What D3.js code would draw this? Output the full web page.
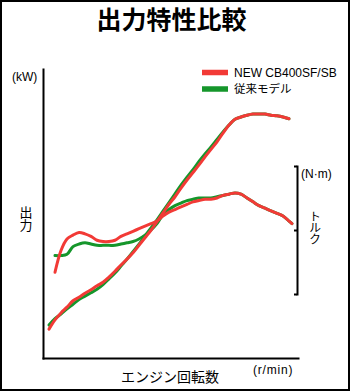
<!DOCTYPE html>
<html lang="ja">
<head>
<meta charset="utf-8">
<script src="https://cdn.jsdelivr.net/npm/d3@7"></script>
<style>
  html, body { margin: 0; padding: 0; background: #fff; }
  svg { display: block; }
  .latin { font-family: "Liberation Sans", Arial, sans-serif; }
  .cjk { font-family: "Noto Sans CJK JP", sans-serif; }
  .vertical { writing-mode: vertical-rl; }
</style>
</head>
<body>
<svg id="chart" width="350" height="391"></svg>
<script>
// Engine speed (r/min) sampled for each curve
const powerRpm = d3.range(1500, 13501, 300);
const torqueRpm = d3.range(1800, 13501, 300).concat([13650]);

// Output (kW)
const powerNew = [5.0, 6.6, 7.8, 8.8, 9.9, 10.5, 11.2, 11.8, 12.5, 13.1, 14.0, 15.0, 16.1, 17.1, 18.2, 19.5, 20.8, 22.1, 23.6, 25.1, 26.6, 27.9, 29.4, 30.8, 32.1, 33.4, 34.8, 36.1, 37.4, 38.9, 40.3, 41.3, 41.7, 42.0, 42.2, 42.2, 42.2, 42.0, 41.9, 41.7, 41.4];
const powerOld = [5.7, 6.8, 7.6, 8.5, 9.3, 10.1, 10.7, 11.3, 11.9, 12.7, 13.7, 14.7, 15.9, 17.1, 18.4, 19.7, 21.1, 22.5, 23.9, 25.4, 26.9, 28.4, 29.9, 31.3, 32.6, 34.0, 35.3, 36.5, 37.8, 39.1, 40.3, 41.3, 41.7, 42.0, 42.2, 42.2, 42.2, 42.0, 41.9, 41.7, 41.4];

// Torque (N·m)
const torqueNew = [31.7, 33.4, 34.3, 34.6, 34.8, 34.7, 34.5, 34.2, 34.1, 34.1, 34.2, 34.5, 34.7, 34.9, 35.1, 35.3, 35.5, 35.7, 36.1, 36.4, 36.6, 36.8, 37.0, 37.2, 37.3, 37.4, 37.4, 37.5, 37.7, 37.8, 37.9, 37.8, 37.5, 37.2, 36.9, 36.7, 36.5, 36.3, 36.1, 35.7, 35.5];
const torqueOld = [33.0, 33.0, 33.1, 33.7, 33.9, 34.0, 33.9, 33.8, 33.8, 33.8, 33.8, 33.9, 34.0, 34.1, 34.3, 34.6, 35.0, 35.5, 36.2, 36.6, 36.9, 37.1, 37.3, 37.4, 37.5, 37.5, 37.5, 37.6, 37.7, 37.8, 37.9, 37.8, 37.5, 37.2, 36.9, 36.7, 36.5, 36.3, 36.1, 35.7, 35.5];

const torqueTicks = [30, 35, 40];

const seriesNames = ["NEW CB400SF/SB", "従来モデル"];
const seriesColors = ["#f23a36", "#15962b"];

const svg = d3.select("#chart");

// Frame
svg.append("rect")
  .attr("x", 1).attr("y", 1).attr("width", 348).attr("height", 389)
  .attr("fill", "#fff").attr("stroke", "#000").attr("stroke-width", 2);

// Title
svg.append("text")
  .attr("class", "cjk")
  .attr("x", 171.5).attr("y", 29)
  .attr("text-anchor", "middle")
  .attr("font-size", 25).attr("font-weight", 700)
  .text("出力特性比較");

// Scales
const x = d3.scaleLinear().domain([1200, 13950]).range([43, 298]);
const yPower = d3.scaleLinear().domain([0, 50]).range([358, 69]);
const yTorque = d3.scaleLinear().domain([30, 40]).range([294, 166]);

// Axes
const axisStyle = g => {
  g.select(".domain").attr("stroke", "#000").attr("stroke-width", 2).attr("stroke-linecap", "square");
  g.selectAll(".tick line").attr("stroke", "#000").attr("stroke-width", 2);
  g.selectAll(".tick text").remove();
};

svg.append("g")
  .attr("transform", "translate(43,0)")
  .call(d3.axisLeft(yPower).tickValues([]).tickSizeOuter(0))
  .call(axisStyle);

svg.append("g")
  .attr("transform", "translate(0,358)")
  .call(d3.axisBottom(x).tickValues([]).tickSizeOuter(0))
  .call(axisStyle);

svg.append("g")
  .attr("transform", "translate(297,0)")
  .call(d3.axisLeft(yTorque).tickValues(torqueTicks).tickSize(3).tickSizeOuter(0).tickFormat(""))
  .call(axisStyle);

// Curves
const powerLine = d3.line()
  .x((d, i) => x(powerRpm[i]))
  .y(d => yPower(d))
  .curve(d3.curveCatmullRom.alpha(0.5));

const torqueLine = d3.line()
  .x((d, i) => x(torqueRpm[i]))
  .y(d => yTorque(d))
  .curve(d3.curveCatmullRom.alpha(0.5));

const curves = [
  { gen: powerLine, values: powerOld, color: seriesColors[1] },
  { gen: torqueLine, values: torqueOld, color: seriesColors[1] },
  { gen: powerLine, values: powerNew, color: seriesColors[0] },
  { gen: torqueLine, values: torqueNew, color: seriesColors[0] }
];

svg.append("g")
  .selectAll("path")
  .data(curves)
  .join("path")
  .attr("d", c => c.gen(c.values))
  .attr("fill", "none")
  .attr("stroke", c => c.color)
  .attr("stroke-width", 3)
  .attr("stroke-linecap", "round")
  .attr("stroke-linejoin", "round");

// Legend
const legend = svg.append("g");
seriesNames.forEach((name, i) => {
  const yy = 72.5 + i * 16.5;
  legend.append("rect")
    .attr("x", 202).attr("y", yy - 2.75)
    .attr("width", 26).attr("height", 5.5)
    .attr("fill", seriesColors[i]);
  legend.append("text")
    .attr("class", i === 0 ? "latin" : "cjk")
    .attr("x", 234).attr("y", yy + 4)
    .attr("font-size", i === 0 ? 12 : 11.5)
    .text(name);
});

// Axis titles
svg.append("text").attr("class", "latin")
  .attr("x", 12).attr("y", 81).attr("font-size", 12).text("(kW)");

svg.append("text").attr("class", "cjk vertical")
  .attr("x", 26).attr("y", 206).attr("font-size", 13)
  .text("出力");

svg.append("text").attr("class", "latin")
  .attr("x", 301).attr("y", 178).attr("font-size", 12).text("(N·m)");

svg.append("text").attr("class", "cjk vertical")
  .attr("x", 315).attr("y", 210).attr("font-size", 12).attr("letter-spacing", -0.5)
  .text("トルク");

svg.append("text").attr("class", "cjk")
  .attr("x", 170).attr("y", 382).attr("text-anchor", "middle")
  .attr("font-size", 14).text("エンジン回転数");

svg.append("text").attr("class", "latin")
  .attr("x", 253).attr("y", 374).attr("font-size", 12).attr("letter-spacing", 0.8).text("(r/min)");
</script>
</body>
</html>
